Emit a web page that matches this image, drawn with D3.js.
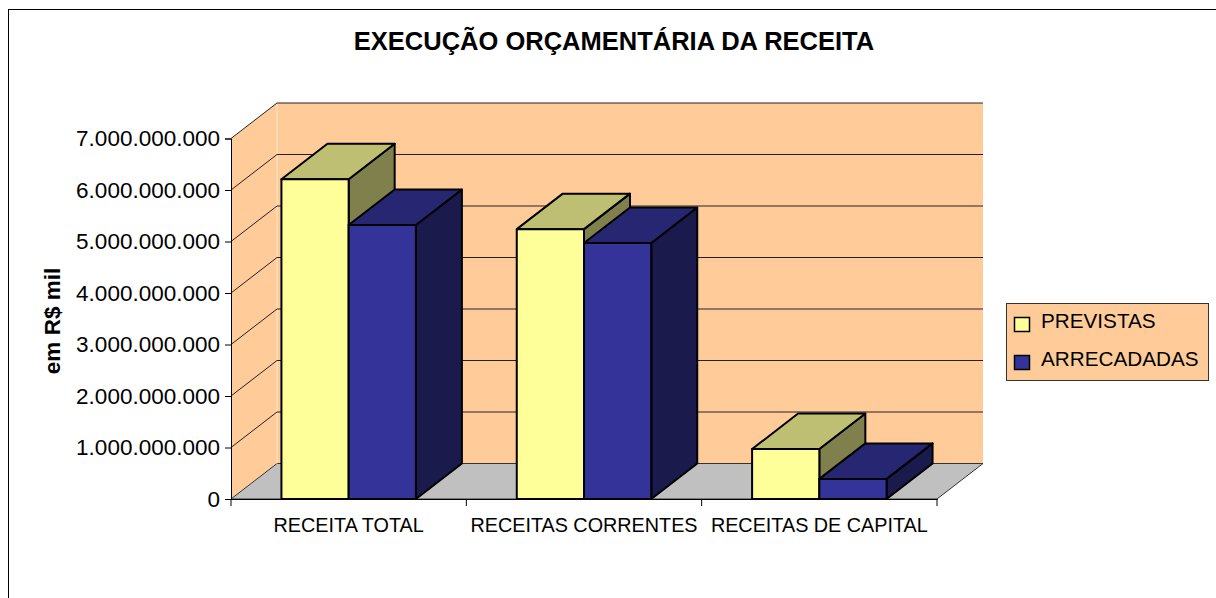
<!DOCTYPE html>
<html>
<head>
<meta charset="utf-8">
<script src="https://cdn.jsdelivr.net/npm/d3@7"></script>
<style>
  html, body { margin: 0; padding: 0; background: #fff; }
  svg { display: block; font-family: "Liberation Sans", Arial, sans-serif; }
</style>
</head>
<body>
<svg id="chart" width="1216" height="598"></svg>
<script>
const categories = ["RECEITA TOTAL", "RECEITAS CORRENTES", "RECEITAS DE CAPITAL"];
const seriesNames = ["PREVISTAS", "ARRECADADAS"];
const previstas = [6210000000, 5240000000, 970000000];
const arrecadadas = [5320000000, 4970000000, 390000000];
const yTicks = [0, 1e9, 2e9, 3e9, 4e9, 5e9, 6e9, 7e9];
const seriesValues = [previstas, arrecadadas];

const colors = {
  PREVISTAS: { front: "#FFFF99", top: "#BFBF73", side: "#80804D" },
  ARRECADADAS: { front: "#333399", top: "#262673", side: "#1A1A4D" }
};
const wallColor = "#FFCC99";
const floorColor = "#C0C0C0";

// depth of the fake 3d box
const depthX = 46;
const depthY = -35.5;

const svg = d3.select("#chart");
const ptBR = d3.formatLocale({ decimal: ",", thousands: ".", grouping: [3], currency: ["R$", ""] });

const x = d3.scaleBand().domain(categories).range([231, 937]);
const xSeries = d3.scaleBand().domain(seriesNames)
  .range([0, x.bandwidth()]).paddingInner(0).paddingOuter(0.75);
const y = d3.scaleLinear().domain([0, 7e9]).range([499, 138.5]);

const poly = (pts) => pts.map((p) => p.join(",")).join(" ");

// outer chart frame, only top and left are in view
svg.append("rect").attr("x", 8.5).attr("y", 9.5).attr("width", 1300).attr("height", 700)
  .attr("fill", "#fff").attr("stroke", "#000").attr("stroke-width", 1);

svg.append("text").attr("x", 614).attr("y", 50).attr("text-anchor", "middle")
  .attr("font-size", 25.5).attr("font-weight", "bold").attr("fill", "#000")
  .text("EXECUÇÃO ORÇAMENTÁRIA DA RECEITA");

const x0 = x.range()[0], x1 = x.range()[1];
const yTop = y(7e9), yBase = y(0);

// walls and floor
svg.append("polygon").attr("fill", wallColor)
  .attr("points", poly([[x0, yBase], [x0, yTop], [x0 + depthX, yTop + depthY], [x0 + depthX, yBase + depthY]]));
svg.append("polygon").attr("fill", wallColor)
  .attr("points", poly([[x0 + depthX, yTop + depthY], [x1 + depthX, yTop + depthY], [x1 + depthX, yBase + depthY], [x0 + depthX, yBase + depthY]]));
svg.append("polygon").attr("fill", floorColor).attr("stroke", "#333").attr("stroke-width", 1)
  .attr("points", poly([[x0, yBase], [x0 + depthX, yBase + depthY], [x1 + depthX, yBase + depthY], [x1, yBase]]));
svg.append("line").attr("x1", x0 + depthX).attr("x2", x0 + depthX)
  .attr("y1", yTop + depthY).attr("y2", yBase + depthY).attr("stroke", "#FFE6CC");

// gridlines, side wall then back wall
const grid = svg.append("g").attr("fill", "none").attr("stroke", "#222").attr("stroke-width", 1);
yTicks.forEach((t) => {
  if (t > 0) {
    grid.append("line").attr("x1", x0).attr("y1", y(t)).attr("x2", x0 + depthX).attr("y2", y(t) + depthY);
    grid.append("line").attr("x1", x0 + depthX).attr("y1", y(t) + depthY).attr("x2", x1 + depthX).attr("y2", y(t) + depthY);
  }
});

// bars
categories.forEach((cat, i) => {
  seriesNames.forEach((name, s) => {
    const v = seriesValues[s][i];
    const bx0 = x(cat) + xSeries(name);
    const bx1 = bx0 + xSeries.bandwidth();
    const by = y(v);
    const g = svg.append("g").attr("stroke", "#000").attr("stroke-width", 2).attr("stroke-linejoin", "round");
    g.append("polygon").attr("fill", colors[name].side)
      .attr("points", poly([[bx1, by], [bx1 + depthX, by + depthY], [bx1 + depthX, yBase + depthY], [bx1, yBase]]));
    g.append("polygon").attr("fill", colors[name].top)
      .attr("points", poly([[bx0, by], [bx0 + depthX, by + depthY], [bx1 + depthX, by + depthY], [bx1, by]]));
    g.append("rect").attr("fill", colors[name].front)
      .attr("x", bx0).attr("y", by).attr("width", bx1 - bx0).attr("height", yBase - by);
  });
});

// y axis
const yAxis = svg.append("g").attr("transform", `translate(${x0},0)`)
  .call(d3.axisLeft(y).tickValues(yTicks).tickFormat(ptBR.format(",d")).tickSize(6).tickPadding(5));
yAxis.selectAll("text").attr("font-size", 22.5).attr("fill", "#000").attr("font-family", "Liberation Sans");
yAxis.selectAll("line, path").attr("stroke", "#000");

// x axis, ticks sit between the categories
const xAxis = svg.append("g").attr("transform", `translate(0,${yBase})`)
  .call(d3.axisBottom(x).tickSize(0).tickPadding(19));
xAxis.selectAll("text").attr("font-size", 19.8).attr("fill", "#000").attr("font-family", "Liberation Sans");
xAxis.select("path").attr("stroke", "#000");
const boundaries = categories.map((c) => x(c)).concat([x1]);
xAxis.selectAll(".bound").data(boundaries).enter().append("line")
  .attr("x1", (d) => d).attr("x2", (d) => d).attr("y1", 0).attr("y2", 7).attr("stroke", "#000");

svg.append("text").attr("transform", "translate(60,321) rotate(-90)").attr("text-anchor", "middle")
  .attr("font-size", 22.5).attr("font-weight", "bold").attr("fill", "#000").text("em R$ mil");

// legend
const legend = svg.append("g");
legend.append("rect").attr("x", 1006.5).attr("y", 303.5).attr("width", 202).attr("height", 77)
  .attr("fill", wallColor).attr("stroke", "#333");
seriesNames.forEach((name, i) => {
  const row = legend.append("g").attr("transform", `translate(0,${i * 38})`);
  row.append("rect").attr("x", 1014.5).attr("y", 317.5).attr("width", 15).attr("height", 14)
    .attr("fill", colors[name].front).attr("stroke", "#000").attr("stroke-width", 1.5);
  row.append("text").attr("x", 1041).attr("y", 328).attr("font-size", 20.7).attr("fill", "#000").text(name);
});
</script>
</body>
</html>
